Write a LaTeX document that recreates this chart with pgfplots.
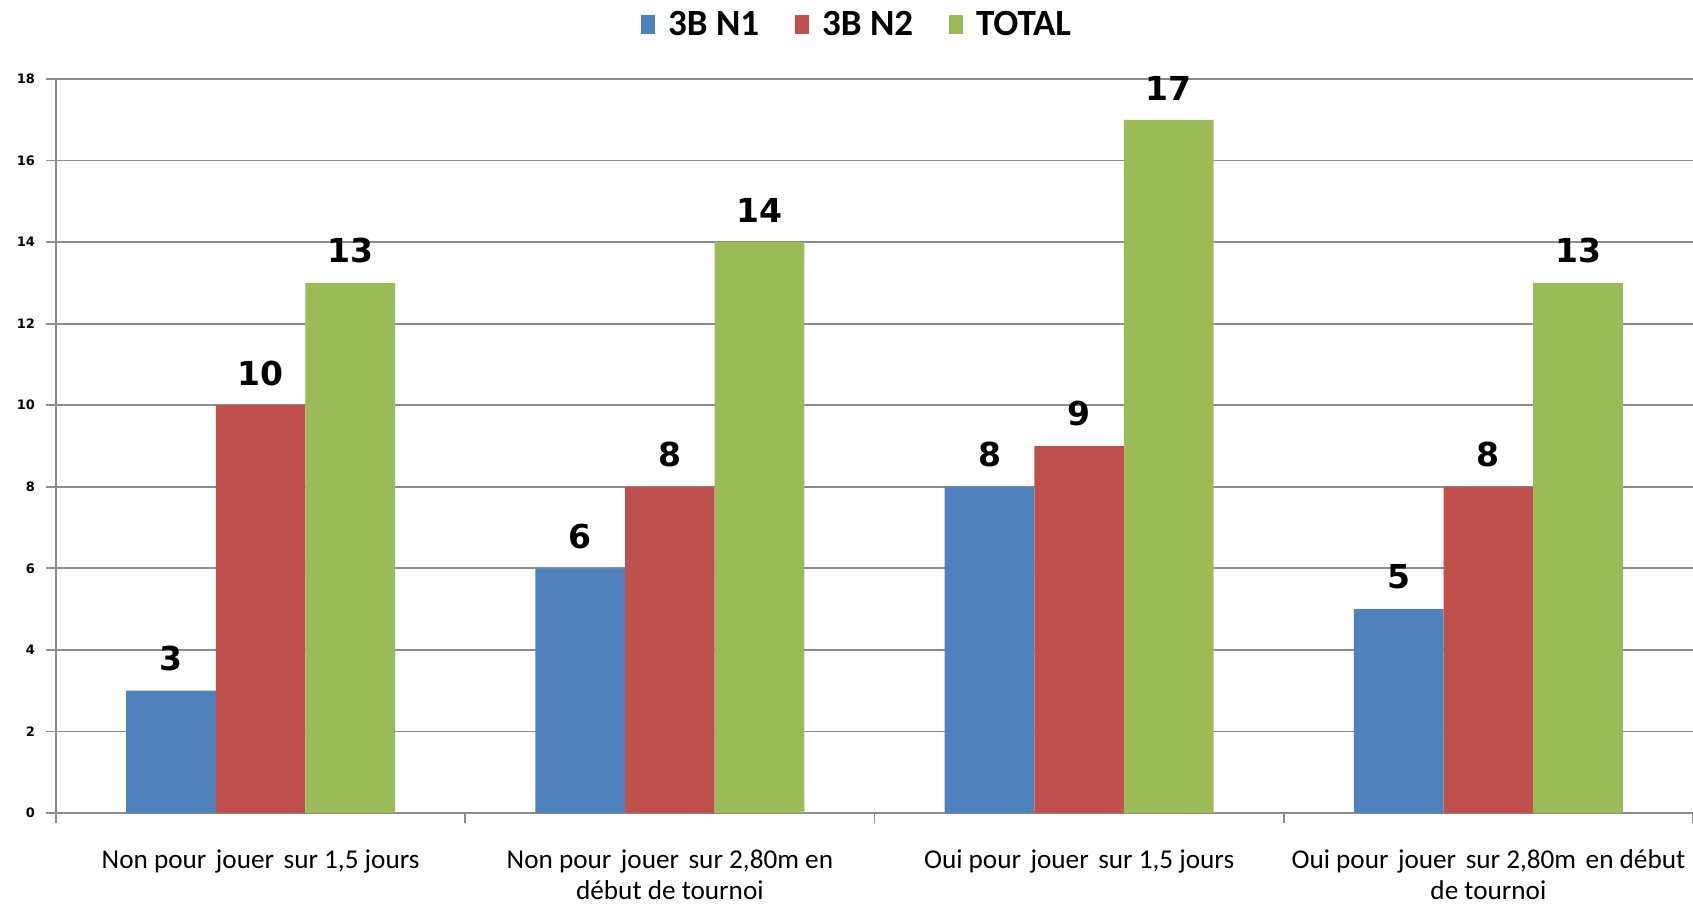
\documentclass[border=0pt]{standalone}
\usepackage{pgfplots}
\pgfplotsset{compat=1.18}
\usepackage{fontspec}
\setmainfont{Carlito}
\newfontfamily\verd{DejaVu Sans}
\definecolor{cblue}{HTML}{4F81BD}
\definecolor{cred}{HTML}{C0504D}
\definecolor{cgreen}{HTML}{9BBB59}
\definecolor{cgrid}{HTML}{8C8C8C}
\newcommand{\gsp}{\hspace{0.35em}}
\begin{document}
\begin{tikzpicture}
\begin{axis}[
  scale only axis,
  width=818.5pt, height=367pt,
  ybar=0pt, bar width=0.219,
  xmin=-0.5, xmax=3.5,
  ymin=0, ymax=18,
  /pgf/number format/assume math mode=true,
  ytick={0,2,...,18},
  xtick={-0.5,0.5,1.5,2.5,3.5},
  x tick label as interval,
  xticklabels={{Non pour\gsp jouer\gsp sur 1,5 jours},{Non pour\gsp jouer\gsp sur 2,80m en\\début de tournoi},{Oui pour\gsp jouer\gsp sur 1,5 jours},{Oui pour\gsp jouer\gsp sur 2,80m\gsp en début\\de tournoi}},
  xticklabel style={font=\fontsize{13.6}{15.3}\selectfont, align=center, anchor=north, yshift=-10pt},
  x tick style={draw=cgrid, line width=0.9pt},
  ymajorgrids,
  grid style={draw=cgrid, line width=0.9pt},
  axis x line*=bottom,
  axis y line*=left,
  axis line style={draw=cgrid, line width=1pt, -},
  y tick style={draw=cgrid, line width=0.9pt},
  major tick length=5pt,
  tick align=outside,
  yticklabel style={font=\verd\bfseries\fontsize{6.5}{7}\selectfont, xshift=-2pt},
  nodes near coords,
  every node near coord/.append style={font=\verd\bfseries\fontsize{16.5}{18}\selectfont, yshift=6.3pt, text=black},
  legend columns=-1,
  legend style={draw=none, at={(0.49,1.0736)}, anchor=center, font=\bfseries\fontsize{18.5}{20}\selectfont,
    /tikz/every odd column/.append style={column sep=4.5pt},
    /tikz/every even column/.append style={column sep=16pt}},
  legend image code/.code={\fill[#1] (0pt,-4.75pt) rectangle (7pt,4.75pt);},
  clip=false,
]
\addplot[fill=cblue, draw=none] coordinates {(0,3) (1,6) (2,8) (3,5)};
\addplot[fill=cred, draw=none] coordinates {(0,10) (1,8) (2,9) (3,8)};
\addplot[fill=cgreen, draw=none] coordinates {(0,13) (1,14) (2,17) (3,13)};
\legend{3B N1, 3B N2, TOTAL}
\end{axis}
\pgfresetboundingbox
\path (current axis.south west) ++(-28pt,-46.5pt) coordinate (bl);
\path (current axis.north east) ++(0pt,39.5pt) coordinate (tr);
\useasboundingbox (bl) rectangle (tr);
\end{tikzpicture}
\end{document}
